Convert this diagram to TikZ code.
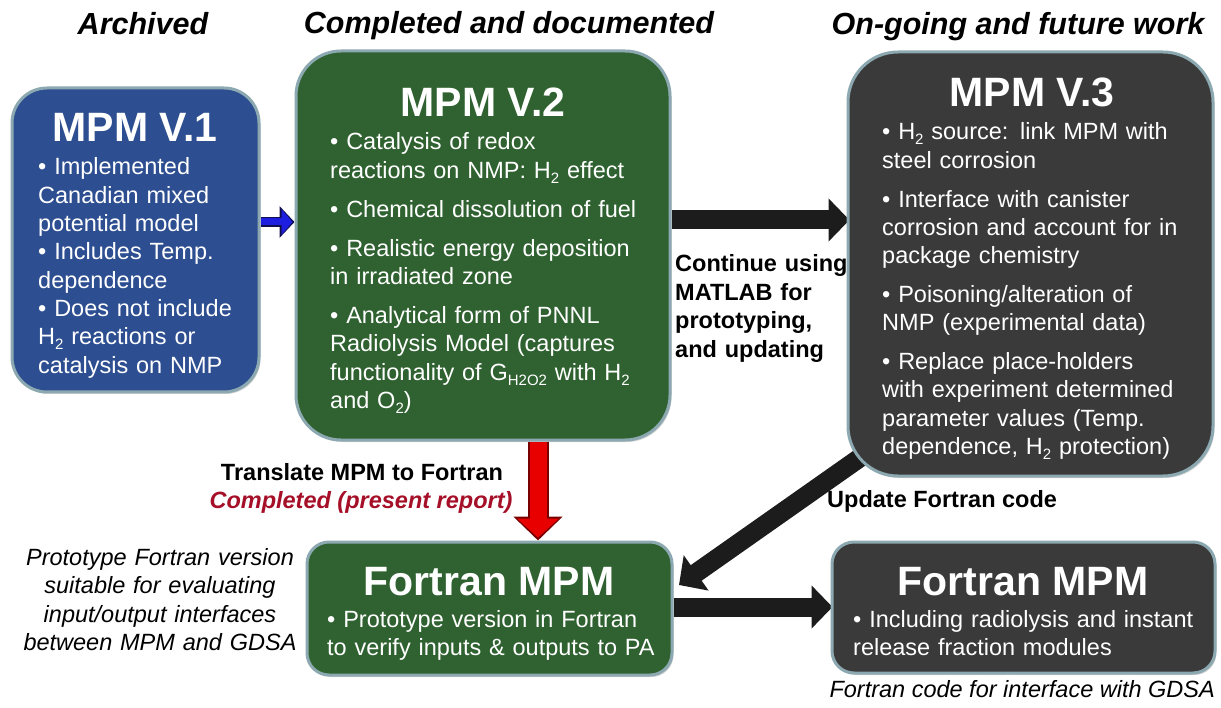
\documentclass[tikz,border=0pt]{standalone}
\usepackage{fontspec}
\setmainfont{Liberation Sans}
\usetikzlibrary{arrows.meta,shadows,backgrounds}
\definecolor{bluebox}{RGB}{45,78,145}
\definecolor{greenbox}{RGB}{47,98,48}
\definecolor{darkbox}{RGB}{58,58,58}
\definecolor{rimcol}{RGB}{140,168,176}
\definecolor{arrowblk}{RGB}{28,28,28}
\definecolor{redtxt}{RGB}{165,15,40}
\definecolor{arrblue}{RGB}{30,30,225}
\definecolor{arrblueout}{RGB}{15,15,80}
\definecolor{arrred}{RGB}{232,0,0}
\definecolor{arrredout}{RGB}{120,0,0}
\newcommand{\sbs}[1]{\raisebox{-5pt}{\fontsize{15}{15}\selectfont #1}}
\tikzset{
  box/.style={draw=rimcol, line width=3pt, inner sep=0pt,
    drop shadow={shadow xshift=1.5pt,shadow yshift=-2pt,opacity=0.35}},
  ttl/.style={font=\fontsize{41}{41}\bfseries\selectfont, text=white, anchor=base, inner sep=0pt},
  body/.style={text=white, anchor=base west, inner sep=0pt, align=left,
    font=\fontsize{23.5}{28.3}\selectfont},
  hdr/.style={font=\fontsize{30.5}{36}\bfseries\itshape\selectfont, anchor=base, inner sep=0pt},
  lbl/.style={font=\fontsize{23.5}{28.5}\bfseries\selectfont, inner sep=0pt},
  note/.style={font=\fontsize{23.5}{28.5}\itshape\selectfont, inner sep=0pt},
  blkarrow/.style={draw=arrowblk, line width=19pt, -{Triangle[length=21pt,width=42pt]}},
}
\begin{document}
\begin{tikzpicture}[x=1pt,y=-1pt]
\useasboundingbox (0,0) rectangle (1221,708);

% headers
\node[hdr] (h1) at (143,35) {Archived};
\node[hdr] (h2) at (509,34) {Completed and documented};
\node[hdr] (h3) at (1018,35) {On-going and future work};

% boxes
\node[box, fill=bluebox, rounded corners=35pt, minimum width=247pt, minimum height=304pt] (v1) at (135.5,240) {};
\node[box, fill=greenbox, rounded corners=45pt, minimum width=374pt, minimum height=389pt] (v2) at (483,245.5) {};
\node[box, fill=darkbox, rounded corners=50pt, minimum width=365pt, minimum height=424pt] (v3) at (1030.5,264) {};
\node[box, fill=greenbox, rounded corners=22pt, minimum width=365pt, minimum height=133pt] (f1) at (489.5,608.5) {};
\node[box, fill=darkbox, rounded corners=22pt, minimum width=383pt, minimum height=131pt] (f2) at (1023.5,607.5) {};

% titles
\node[ttl] (t1) at (135,142) {MPM V.1};
\node[ttl] (t2) at (483,117) {MPM V.2};
\node[ttl] (t3) at (1032,107) {MPM V.3};
\node[ttl] (t4) at (489,595) {Fortran MPM};
\node[ttl] (t5) at (1023,595) {Fortran MPM};

% bodies
\node[body, text width=240pt] (b1) at (38,175) {%
• Implemented\\
Canadian mixed\\
potential model\\
• Includes Temp.\\
dependence\\
• Does not include\\
H\sbs{2} reactions or\\
catalysis on NMP};

\node[body, text width=340pt] (b2) at (330,150) {%
• Catalysis of redox\\
reactions on NMP: H\sbs{2} effect\\[10.7pt]
• Chemical dissolution of fuel\\[10.7pt]
• Realistic energy deposition\\
in irradiated zone\\[10.7pt]
• Analytical form of PNNL\\
Radiolysis Model (captures\\
functionality of G\sbs{H2O2} with H\sbs{2}\\
and O\sbs{2})};

\node[body, text width=330pt] (b3) at (882,140) {%
• H\sbs{2} source: link MPM with\\
steel corrosion\\[10.5pt]
• Interface with canister\\
corrosion and account for in\\
package chemistry\\[10.5pt]
• Poisoning/alteration of\\
NMP (experimental data)\\[10.5pt]
• Replace place-holders\\
with experiment determined\\
parameter values (Temp.\\
dependence, H\sbs{2} protection)};

\node[body, text width=345pt, font=\fontsize{23.5}{28}\selectfont] (b4) at (327,627) {%
• Prototype version in Fortran\\
to verify inputs \& outputs to PA};

\node[body, text width=360pt, font=\fontsize{23.5}{28}\selectfont] (b5) at (853,627) {%
• Including radiolysis and instant\\
release fraction modules};

% labels
\node[lbl, anchor=base west, text width=185pt, align=left] (l1) at (675,272) {%
Continue using\\
MATLAB for\\
prototyping,\\
and updating};
\node[lbl, anchor=base] (l2) at (362,480) {Translate MPM to Fortran};
\node[lbl, anchor=base, text=redtxt, font=\fontsize{23.5}{28.5}\bfseries\itshape\selectfont] (l3) at (361,508) {Completed (present report)};
\node[lbl, anchor=base west] (l4) at (827,507) {Update Fortran code};
\node[note, anchor=base, text width=300pt, align=center] (n1) at (160,565) {%
Prototype Fortran version\\
suitable for evaluating\\
input/output interfaces\\
between MPM and GDSA};
\node[note, anchor=base east] (n2) at (1215,697) {Fortran code for interface with GDSA};

% helper coordinates
\coordinate (ya) at (0,222);
\coordinate (yb) at (0,220);
\coordinate (yc) at (0,607);
\coordinate (xr) at (538,0);
\coordinate (dstart) at (898,431);
\coordinate (dtip) at (679,585);

\begin{pgfonlayer}{background}
% blue arrow V.1 -> V.2
\draw[draw=arrblueout, line width=10pt, -{Triangle[length=15pt,width=31pt]}] (v1.east |- ya) -- (v2.west |- ya);
\draw[draw=arrblue, line width=7pt, shorten >=2pt, -{Triangle[length=11pt,width=25pt]}] (v1.east |- ya) -- (v2.west |- ya);
% black arrow V.2 -> V.3
\draw[blkarrow] (v2.east |- yb) -- ([xshift=3pt]v3.west |- yb);
% red arrow V.2 -> Fortran
\draw[draw=arrredout, line width=21pt, -{Triangle[length=24pt,width=48pt]}] (v2.south -| xr) -- (f1.north -| xr);
\draw[draw=arrred, line width=17pt, shorten >=3pt, -{Triangle[length=19pt,width=41pt]}] (v2.south -| xr) -- (f1.north -| xr);
% diagonal arrow V.3 -> Fortran
\draw[blkarrow] (dstart) -- (dtip);
% Fortran -> Fortran
\draw[blkarrow] (f1.east |- yc) -- ([xshift=2pt]f2.west |- yc);
\end{pgfonlayer}
\end{tikzpicture}
\end{document}
